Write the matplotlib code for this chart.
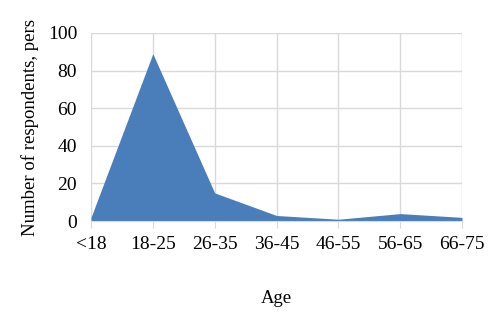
import matplotlib.pyplot as plt

plt.rcParams['font.family'] = ['Liberation Serif', 'DejaVu Serif']

# Age groups and respondent counts
ages = ['<18', '18-25', '26-35', '36-45', '46-55', '56-65', '66-75']
counts = [2, 89, 15, 3, 1, 4, 2]
y_ticks = [0, 20, 40, 60, 80, 100]

fig = plt.figure(figsize=(5, 3.2), dpi=100)
ax = fig.add_axes([0.182, 0.309, 0.742, 0.588])

x = list(range(len(ages)))
ax.fill_between(x, counts, 0, color='#4a7ebb', linewidth=0)

ax.set_xlim(0, len(ages) - 1)
ax.set_ylim(0, 100)
ax.set_xticks(x)
ax.set_xticklabels(ages)
ax.set_yticks(y_ticks)

ax.grid(True, color='#d9d9d9', linewidth=1)
ax.set_axisbelow(True)
for s in ['top', 'right', 'left']:
    ax.spines[s].set_visible(False)
ax.spines['bottom'].set_color('#d9d9d9')
ax.tick_params(axis='y', length=0, labelsize=14, pad=10)
ax.tick_params(axis='x', length=5, color='#d9d9d9', labelsize=14, pad=6)

ax.set_ylabel('Number of respondents, pers', fontsize=13.5, labelpad=6)
ax.set_xlabel('Age', fontsize=13.5, labelpad=26)

fig.savefig('out.png', dpi=100)
